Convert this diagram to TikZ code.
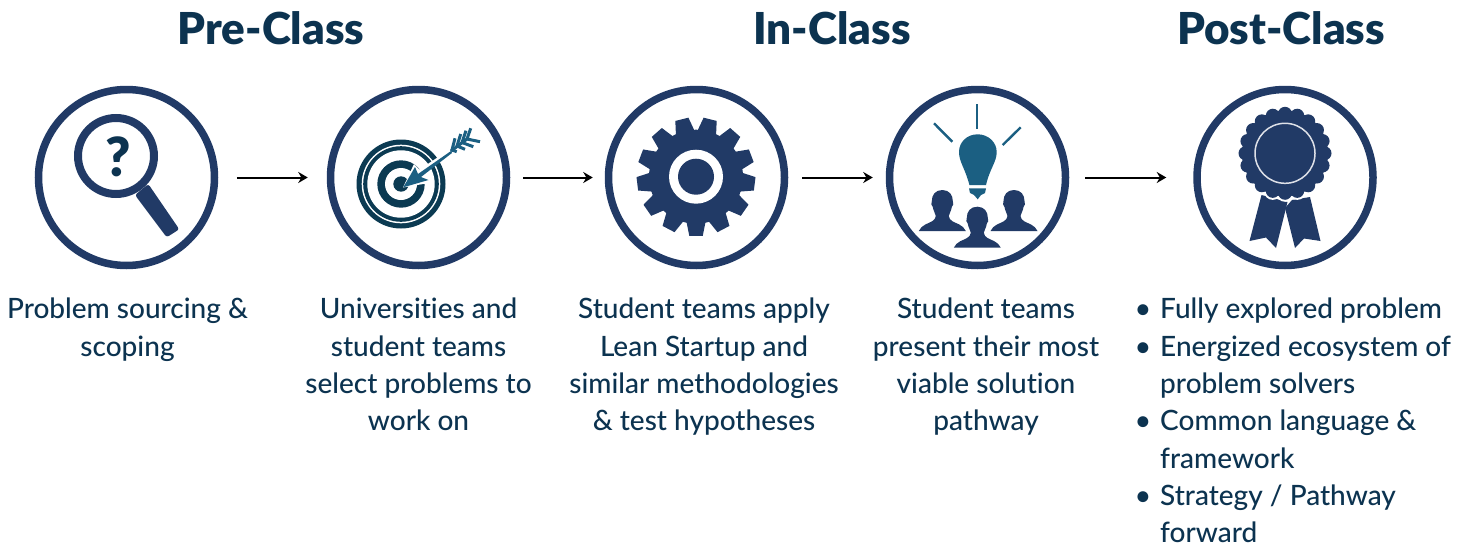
\documentclass[tikz,border=0pt]{standalone}
\usepackage{fontspec}
\setmainfont[Ligatures=NoCommon]{Lato Medium}
\newfontfamily\headfont[Ligatures=NoCommon]{Lato Black}
\usetikzlibrary{arrows.meta}
\definecolor{navy}{HTML}{213A66}
\definecolor{deep}{HTML}{0B3A52}
\definecolor{teal}{HTML}{1B5F82}
\definecolor{ink}{HTML}{0C3350}
\tikzset{
  x=1pt,y=-1pt,
  ringnode/.style={circle,draw=navy,line width=7.5pt,minimum size=176pt,inner sep=0pt,outer sep=3.75pt},
  flowarrow/.style={-{Stealth[length=9.5pt,width=11pt]},line width=2pt,black},
  heading/.style={font=\fontsize{44}{46}\headfont,text=ink,anchor=base,inner sep=0pt},
  bodytext/.style={font=\fontsize{28}{37.3}\selectfont,text=ink,anchor=north,align=center,inner sep=0pt},
  listtext/.style={font=\fontsize{28}{37.3}\selectfont,text=ink,anchor=north west,align=left,inner sep=0pt},
  ray/.style={draw=teal,line width=2.4pt},
  fletch/.style={draw=teal,line width=3pt},
  person/.pic={
    \fill[navy] (0,-41) .. controls (7,-41) and (10.5,-36) .. (10.5,-30)
      .. controls (11.5,-28) and (11,-25) .. (9.5,-24)
      .. controls (9,-20) and (7,-18) .. (6.5,-15)
      .. controls (7,-10) and (12,-9) .. (17,-6.5)
      .. controls (20,-5) and (22,-3) .. (23.5,0) -- (-23.5,0)
      .. controls (-22,-3) and (-20,-5) .. (-17,-6.5)
      .. controls (-12,-9) and (-7,-10) .. (-6.5,-15)
      .. controls (-7,-18) and (-9,-20) .. (-9.5,-24)
      .. controls (-11,-25) and (-11.5,-28) .. (-10.5,-30)
      .. controls (-10.5,-36) and (-7,-41) .. (0,-41) -- cycle;
  }
}
\newcommand{\blt}{\makebox[0pt][r]{•\hspace{9pt}}}
\begin{document}
\begin{tikzpicture}
\useasboundingbox (0,0) rectangle (1471,546);
% rings
\node[ringnode] (c1) at (126.5,177.5) {};
\node[ringnode] (c2) at (418.5,177.5) {};
\node[ringnode] (c3) at (696.5,177.5) {};
\node[ringnode] (c4) at (977.5,177.5) {};
\node[ringnode] (c5) at (1285,177.5) {};
% arrows
\draw[flowarrow,shorten <=18.5pt,shorten >=19pt] (c1.east) -- (c2.west);
\draw[flowarrow,shorten <=13pt,shorten >=12pt] (c2.east) -- (c3.west);
\draw[flowarrow,shorten <=14pt,shorten >=13pt] (c3.east) -- (c4.west);
\draw[flowarrow,shorten <=16pt,shorten >=27pt] (c4.east) -- (c5.west);
% magnifier
\fill[navy,rounded corners=2.5pt] (135,195) -- (148.3,184) -- (179.3,229.3) -- (166.7,237.3) -- cycle;
\draw[navy,line width=8pt,fill=white] (116,156) circle[radius=38pt];
\node[font=\fontsize{54}{54}\headfont,text=ink,inner sep=0pt] (qm) at (118.5,157) {?};
% target
\fill[deep] (401,184) circle[radius=44.5pt];
\fill[white] (401,184) circle[radius=39.3pt];
\fill[deep] (401,184) circle[radius=37.8pt];
\fill[white] (401,184) circle[radius=33.7pt];
\fill[deep] (401,184) circle[radius=23.7pt];
\fill[white] (401,184) circle[radius=16pt];
\fill[deep] (401,184) circle[radius=7.7pt];
\draw[white,line width=5pt] (410,179) -- (450,152);
\fill[white] (403,187.5) -- (414,164) -- (432,182.5) -- cycle;
\fill[teal] (403.3,187.3) -- (415,167) -- (418,174) -- (451,151) -- (452,153) -- (421,177) -- (428.5,180) -- cycle;
\draw[fletch] (451,151) -- (467,139);
\draw[fletch] (455,138.3) -- (452,150) -- (456.7,151.7);
\draw[fletch] (460.7,134) -- (457,146) -- (465,149.3);
\draw[fletch] (466,130.7) -- (462,142.5) -- (473.3,146.7);
\draw[fletch] (470.7,128.3) -- (467,139) -- (480,141.7);
% gear
\fill[navy] (696,176.7) circle[radius=47pt];
\foreach \k in {0,...,12}{
  \pgfmathsetmacro{\ang}{90+\k*360/13}
  \fill[navy] ({696+46*cos(\ang-12)},{176.7+46*sin(\ang-12)})
    -- ({696+59.5*cos(\ang-6.5)},{176.7+59.5*sin(\ang-6.5)})
    -- ({696+59.5*cos(\ang+6.5)},{176.7+59.5*sin(\ang+6.5)})
    -- ({696+46*cos(\ang+12)},{176.7+46*sin(\ang+12)}) -- cycle;
}
\fill[white] (696,176.7) circle[radius=27pt];
\fill[navy] (696,176.7) circle[radius=18pt];
% bulb
\fill[teal] (977.7,134.3) .. controls (988,134.3) and (996.7,142) .. (996.7,152)
  .. controls (996.7,162) and (990,168) .. (986,185) -- (969.4,185)
  .. controls (965,168) and (959,162) .. (959,152)
  .. controls (959,142) and (967,134.3) .. (977.7,134.3) -- cycle;
\fill[teal] (969,188.3) -- (986,188.3) -- (985,193) -- (981,195) -- (977.7,199.3) -- (974,195) -- (970,193) -- cycle;
\draw[ray] (976.7,104.3) -- (976.7,129.3);
\draw[ray] (934,123.3) -- (952.3,141.7);
\draw[ray] (1020.7,127.3) -- (1002.7,145);
\pic at (942.3,231) {person};
\pic at (1014,231) {person};
\pic at (977.3,247.7) {person};
% rosette
\fill[navy] (1261.5,195) -- (1249.5,241) -- (1266,237.5) -- (1276,248) -- (1287.5,202) -- cycle;
\fill[navy] (1310,197) -- (1320.5,241) -- (1304,238.5) -- (1295,248) -- (1285,208) -- (1292,200) -- cycle;
\foreach \k in {0,...,19}{
  \fill[white] ({1285+39.5*cos(\k*18)},{153.3+39.5*sin(\k*18)}) circle[radius=9pt];
}
\foreach \k in {0,...,19}{
  \fill[navy] ({1285+39.5*cos(\k*18)},{153.3+39.5*sin(\k*18)}) circle[radius=7pt];
}
\fill[navy] (1285,153.3) circle[radius=43pt];
\draw[white!85!navy,line width=1.5pt] (1285,153.3) circle[radius=30pt];
% headings
\node[heading] (h1) at (271,44.5) {Pre-Class};
\node[heading] (h2) at (832,44.5) {In-Class};
\node[heading] (h3) at (1281,44.5) {Post-Class};
% body
\node[bodytext] (t1) at (127.5,298) {Problem sourcing \&\\scoping};
\node[bodytext] (t2) at (418.5,298) {Universities and\\student teams\\select problems to\\work on};
\node[bodytext] (t3) at (704,298) {Student teams apply\\Lean Startup and\\similar methodologies\\\& test hypotheses};
\node[bodytext] (t4) at (986,298) {Student teams\\present their most\\viable solution\\pathway};
\node[listtext] (t5) at (1160,298) {\blt Fully explored problem\\\blt Energized ecosystem of\\problem solvers\\\blt Common language \&\\framework\\\blt Strategy / Pathway\\forward};
\end{tikzpicture}
\end{document}
